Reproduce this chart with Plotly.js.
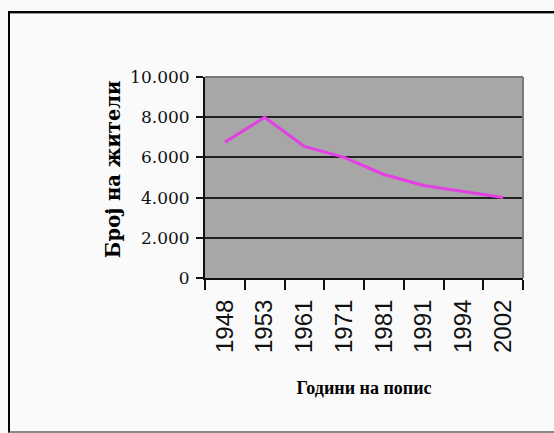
<!DOCTYPE html>
<html>
<head>
<meta charset="utf-8">
<script src="https://cdn.plot.ly/plotly-3.0.1.min.js"></script>
<style>
html,body{margin:0;padding:0;background:#ffffff;}
#wrap{position:relative;width:554px;height:433px;overflow:hidden;}
#chart{position:absolute;left:0;top:0;width:554px;height:433px;}
#frame{position:absolute;left:8px;top:11px;width:560px;height:418px;border-left:2px solid #000;border-top:2px solid #000;border-bottom:2px solid #888;box-shadow:inset 0 1px 0 #999;pointer-events:none;}
</style>
</head>
<body>
<div id="wrap"><div id="chart"></div><div id="frame"></div></div>
<script>
const years = ['1948','1953','1961','1971','1981','1991','1994','2002'];
const population = [6750, 8000, 6550, 6000, 5150, 4600, 4300, 4000];
const yTicks = [0, 2000, 4000, 6000, 8000, 10000];
const xTitle = 'Години на попис';
const yTitle = 'Број на жители';

const trace = {
  x: years, y: population, type: 'scatter', mode: 'lines',
  line: {color: '#e33fe3', width: 3}, hoverinfo: 'skip'
};

const layout = {
  width: 554, height: 433,
  margin: {l: 205, r: 31, t: 77, b: 155},
  paper_bgcolor: '#fafafa',
  plot_bgcolor: '#a7a7a7',
  separators: ',.',
  showlegend: false,
  xaxis: {
    type: 'category', range: [-0.5, 7.5],
    tickson: 'boundaries', ticks: 'outside', ticklen: 10, tickwidth: 2, tickcolor: '#111',
    showgrid: false, showline: true, linecolor: '#111', linewidth: 2,
    tickangle: -90, ticklabelstandoff: 10,
    tickfont: {family: 'Liberation Sans', size: 24, color: '#111'},
    title: {text: xTitle, font: {family: 'Liberation Serif', size: 18, color: '#000', weight: 'bold'}, standoff: 29}
  },
  yaxis: {
    range: [0, 10000], tickvals: yTicks, tickformat: ',d',
    ticks: 'outside', ticklen: 7, tickwidth: 2, tickcolor: '#111',
    showgrid: true, gridcolor: '#222', gridwidth: 2,
    zeroline: false, showline: true, linecolor: '#111', linewidth: 2,
    ticklabelstandoff: 3,
    tickfont: {family: 'DejaVu Serif', size: 17, color: '#111'}
  },
  annotations: [
    {text: yTitle, xref: 'paper', yref: 'paper', x: -0.289, y: 0.542, xanchor: 'center', yanchor: 'middle',
     textangle: -90, showarrow: false, font: {family: 'DejaVu Serif', size: 19.5, color: '#000', weight: 'bold'}}
  ],
  shapes: [
    {type: 'line', xref: 'paper', yref: 'paper', x0: 0, x1: 1, y0: 1, y1: 1, line: {color: '#7a7a7a', width: 2}, layer: 'above'},
    {type: 'line', xref: 'paper', yref: 'paper', x0: 1, x1: 1, y0: 0, y1: 1, line: {color: '#7a7a7a', width: 2}, layer: 'above'}
  ]
};

Plotly.newPlot('chart', [trace], layout, {displayModeBar: false, staticPlot: true});
</script>
</body>
</html>
